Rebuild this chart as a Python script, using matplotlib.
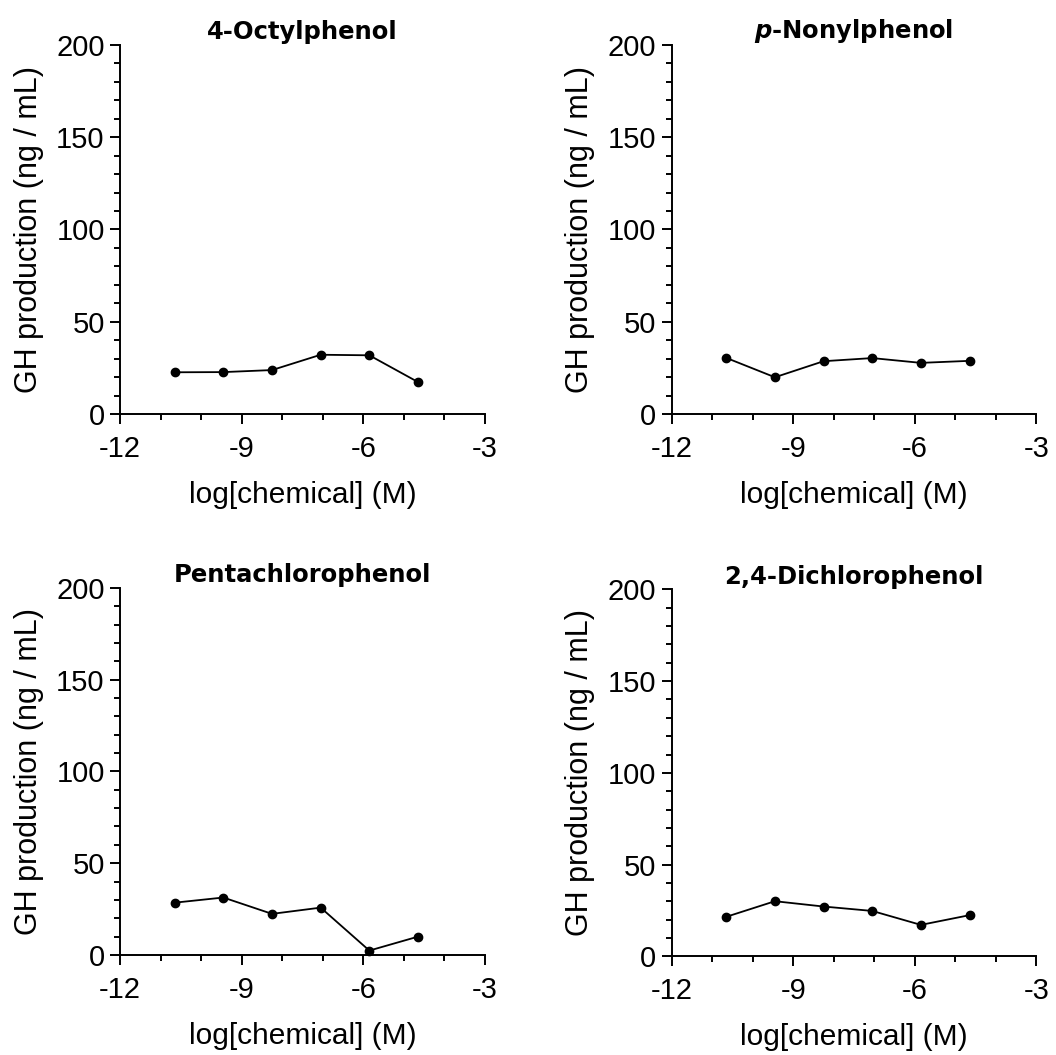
import matplotlib
matplotlib.use("Agg")
import matplotlib.pyplot as plt
from matplotlib.ticker import MultipleLocator, FixedLocator

plt.rcParams["font.family"] = ["Liberation Sans", "DejaVu Sans"]

# log concentrations (M), same for every chemical
log_conc = [-10.65, -9.45, -8.25, -7.05, -5.85, -4.65]

# GH production (ng / mL)
octylphenol = [22.6, 22.7, 23.8, 32.1, 31.8, 17.3]
nonylphenol = [30.4, 19.9, 28.6, 30.3, 27.7, 28.8]
pentachlorophenol = [28.5, 31.3, 22.4, 25.8, 2.4, 10.0]
dichlorophenol = [21.6, 30.1, 27.2, 24.8, 17.2, 22.5]

titles = ["4-Octylphenol", r"$\mathbfit{p}$-Nonylphenol", "Pentachlorophenol", "2,4-Dichlorophenol"]
series = [octylphenol, nonylphenol, pentachlorophenol, dichlorophenol]

x_ticks = [-12, -9, -6, -3]
x_tick_labels = ["-12", "-9", "-6", "-3"]
y_ticks = [0, 50, 100, 150, 200]

fig = plt.figure(figsize=(10.56, 10.55), dpi=100)

# axes boxes in figure fractions (left, bottom, width, height)
boxes = [
    [0.1136, 0.6076, 0.3456, 0.3498],
    [0.6359, 0.6076, 0.3456, 0.3498],
    [0.1136, 0.0948, 0.3456, 0.3480],
    [0.6359, 0.0934, 0.3456, 0.3480],
]

for box, title, values in zip(boxes, titles, series):
    ax = fig.add_axes(box)
    ax.plot(log_conc, values, color="black", linewidth=1.3, marker="o",
            markersize=6, clip_on=False)
    ax.set_xlim(-12, -3)
    ax.set_ylim(0, 200)
    ax.spines["top"].set_visible(False)
    ax.spines["right"].set_visible(False)
    ax.spines["left"].set_linewidth(1.4)
    ax.spines["bottom"].set_linewidth(1.4)
    ax.xaxis.set_major_locator(FixedLocator(x_ticks))
    ax.set_xticklabels(x_tick_labels)
    ax.xaxis.set_minor_locator(MultipleLocator(1))
    ax.yaxis.set_major_locator(FixedLocator(y_ticks))
    ax.yaxis.set_minor_locator(MultipleLocator(10))
    ax.tick_params(which="major", direction="out", length=7, width=1.4,
                   labelsize=21)
    ax.tick_params(axis="x", which="major", pad=8)
    ax.tick_params(axis="y", which="major", pad=4)
    ax.tick_params(which="minor", direction="out", length=4.5, width=1.4)
    ax.set_xlabel("log[chemical] (M)", fontsize=21.5, labelpad=13)
    ax.set_ylabel("GH production (ng / mL)", fontsize=22, labelpad=9)
    ax.set_title(title, fontsize=17.5, fontweight="bold", family="DejaVu Sans", pad=4)

fig.savefig("out.png", dpi=100)
